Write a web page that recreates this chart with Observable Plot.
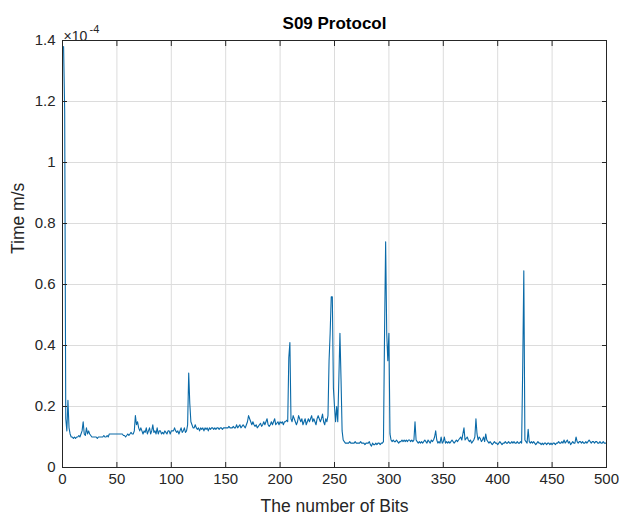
<!DOCTYPE html>
<html>
<head>
<meta charset="utf-8">
<script src="https://cdn.jsdelivr.net/npm/d3@7"></script>
<script src="https://cdn.jsdelivr.net/npm/@observablehq/plot@0.6"></script>
<style>
  html, body { margin: 0; padding: 0; background: #fff; }
  #chart svg { display: block; }
</style>
</head>
<body>
<div id="chart"></div>
<script>
// Time (×10^-4 m/s) for bits 1..500
const timeValues = [
  1.38, 1.17, 0.16, 0.12, 0.22, 0.13, 0.11, 0.10, 0.10, 0.095,
  0.10, 0.095, 0.10, 0.10, 0.105, 0.10, 0.11, 0.12, 0.15, 0.11,
  0.105, 0.13, 0.11, 0.12, 0.11, 0.105, 0.10, 0.10, 0.10, 0.10,
  0.10, 0.095, 0.10, 0.10, 0.10, 0.10, 0.10, 0.105, 0.10, 0.10,
  0.105, 0.10, 0.11, 0.11, 0.11, 0.11, 0.11, 0.11, 0.11, 0.11,
  0.11, 0.11, 0.11, 0.11, 0.11, 0.105, 0.105, 0.10, 0.105, 0.11,
  0.105, 0.11, 0.115, 0.11, 0.11, 0.12, 0.17, 0.14, 0.15, 0.13,
  0.12, 0.13, 0.12, 0.11, 0.12, 0.115, 0.13, 0.11, 0.12, 0.13,
  0.11, 0.12, 0.14, 0.115, 0.12, 0.11, 0.13, 0.11, 0.12, 0.12,
  0.11, 0.115, 0.11, 0.12, 0.115, 0.11, 0.12, 0.12, 0.11, 0.12,
  0.12, 0.12, 0.13, 0.12, 0.115, 0.12, 0.11, 0.12, 0.13, 0.115,
  0.12, 0.13, 0.115, 0.12, 0.14, 0.31, 0.21, 0.15, 0.14, 0.13,
  0.13, 0.14, 0.13, 0.125, 0.13, 0.12, 0.13, 0.125, 0.13, 0.12,
  0.13, 0.125, 0.13, 0.12, 0.13, 0.125, 0.13, 0.13, 0.125, 0.13,
  0.125, 0.13, 0.13, 0.125, 0.13, 0.13, 0.125, 0.13, 0.13, 0.13,
  0.13, 0.13, 0.135, 0.13, 0.13, 0.13, 0.135, 0.13, 0.13, 0.14,
  0.13, 0.135, 0.14, 0.13, 0.135, 0.14, 0.135, 0.13, 0.14, 0.15,
  0.17, 0.16, 0.15, 0.14, 0.15, 0.14, 0.135, 0.14, 0.13, 0.135,
  0.14, 0.145, 0.135, 0.14, 0.15, 0.14, 0.15, 0.16, 0.14, 0.135,
  0.14, 0.15, 0.14, 0.15, 0.16, 0.14, 0.145, 0.15, 0.14, 0.15,
  0.145, 0.15, 0.14, 0.15, 0.15, 0.155, 0.15, 0.36, 0.41, 0.16,
  0.15, 0.17, 0.16, 0.15, 0.14, 0.15, 0.17, 0.16, 0.15, 0.16,
  0.14, 0.15, 0.16, 0.14, 0.15, 0.16, 0.15, 0.16, 0.17, 0.15,
  0.16, 0.15, 0.14, 0.16, 0.17, 0.16, 0.15, 0.16, 0.175, 0.15,
  0.14, 0.16, 0.15, 0.17, 0.35, 0.44, 0.56, 0.56, 0.26, 0.20,
  0.15, 0.20, 0.15, 0.29, 0.44, 0.29, 0.12, 0.09, 0.085, 0.08,
  0.08, 0.08, 0.08, 0.085, 0.08, 0.08, 0.08, 0.08, 0.085, 0.08,
  0.08, 0.08, 0.08, 0.085, 0.08, 0.08, 0.08, 0.075, 0.08, 0.08,
  0.08, 0.085, 0.075, 0.07, 0.08, 0.075, 0.075, 0.08, 0.075, 0.08,
  0.08, 0.075, 0.08, 0.08, 0.085, 0.44, 0.74, 0.44, 0.35, 0.44,
  0.11, 0.09, 0.085, 0.09, 0.085, 0.085, 0.09, 0.085, 0.08, 0.085,
  0.085, 0.09, 0.085, 0.09, 0.085, 0.09, 0.085, 0.09, 0.09, 0.085,
  0.09, 0.085, 0.09, 0.15, 0.09, 0.085, 0.08, 0.085, 0.08, 0.085,
  0.08, 0.085, 0.09, 0.085, 0.08, 0.09, 0.085, 0.08, 0.09, 0.085,
  0.09, 0.10, 0.12, 0.09, 0.08, 0.085, 0.08, 0.10, 0.08, 0.085,
  0.10, 0.08, 0.085, 0.08, 0.085, 0.08, 0.085, 0.09, 0.085, 0.08,
  0.085, 0.09, 0.085, 0.09, 0.095, 0.10, 0.09, 0.11, 0.13, 0.09,
  0.095, 0.10, 0.09, 0.085, 0.09, 0.08, 0.085, 0.09, 0.10, 0.16,
  0.11, 0.09, 0.10, 0.095, 0.085, 0.09, 0.10, 0.085, 0.11, 0.09,
  0.085, 0.08, 0.085, 0.08, 0.075, 0.08, 0.085, 0.08, 0.08, 0.075,
  0.08, 0.085, 0.08, 0.075, 0.08, 0.08, 0.085, 0.08, 0.08, 0.085,
  0.08, 0.08, 0.085, 0.08, 0.085, 0.08, 0.08, 0.085, 0.08, 0.08,
  0.085, 0.08, 0.33, 0.645, 0.09, 0.085, 0.08, 0.125, 0.085, 0.08,
  0.085, 0.08, 0.085, 0.08, 0.075, 0.08, 0.085, 0.08, 0.08, 0.075,
  0.08, 0.075, 0.08, 0.08, 0.075, 0.08, 0.08, 0.075, 0.08, 0.075,
  0.08, 0.08, 0.075, 0.08, 0.08, 0.085, 0.08, 0.08, 0.085, 0.08,
  0.09, 0.08, 0.085, 0.09, 0.08, 0.085, 0.075, 0.08, 0.085, 0.08,
  0.08, 0.10, 0.085, 0.08, 0.085, 0.085, 0.08, 0.085, 0.08, 0.08,
  0.085, 0.08, 0.085, 0.09, 0.085, 0.08, 0.085, 0.085, 0.08, 0.085,
  0.085, 0.08, 0.08, 0.085, 0.08, 0.08, 0.085, 0.08, 0.08, 0.08
];
const bits = timeValues.map((_, i) => i + 1);
const xTicks = [0, 50, 100, 150, 200, 250, 300, 350, 400, 450, 500];
const yTicks = [0, 0.2, 0.4, 0.6, 0.8, 1, 1.2, 1.4];
const titleText = "S09 Protocol";
const xLabel = "The number of Bits";
const yLabel = "Time m/s";
const exponentBase = "×10";
const exponentPower = "-4";

const data = bits.map((b, i) => ({bit: b, t: timeValues[i]}));
const axisColor = "#262626";
const font = "'Liberation Sans', Arial, Helvetica, sans-serif";

const chart = Plot.plot({
  width: 619,
  height: 518,
  marginLeft: 62,
  marginRight: 13,
  marginTop: 40,
  marginBottom: 51,
  style: {fontFamily: font, background: "#fff", color: axisColor},
  x: {domain: [0, 500]},
  y: {domain: [0, 1.4]},
  marks: [
    Plot.gridX(xTicks, {stroke: "#dcdcdc", strokeOpacity: 1}),
    Plot.gridY(yTicks, {stroke: "#dcdcdc", strokeOpacity: 1}),
    Plot.line(data, {x: "bit", y: "t", stroke: "#0a6aa8", strokeWidth: 1.1}),
    Plot.axisX(xTicks, {anchor: "bottom", tickSize: -5, tickPadding: 11, fontSize: 15, label: null, stroke: axisColor, fill: axisColor}),
    Plot.axisX(xTicks, {anchor: "top", tickSize: -5, tickFormat: () => "", label: null, stroke: axisColor}),
    Plot.axisY(yTicks, {anchor: "left", tickSize: -5, tickPadding: 12, fontSize: 15, label: null, tickFormat: d => String(+d.toFixed(1)), stroke: axisColor, fill: axisColor}),
    Plot.axisY(yTicks, {anchor: "right", tickSize: -5, tickFormat: () => "", label: null, stroke: axisColor}),
    Plot.frame({stroke: axisColor, strokeWidth: 1}),
    Plot.text([titleText], {frameAnchor: "top", dy: -24, fontSize: 17, fontWeight: "bold", fill: "#000", text: d => d}),
    Plot.text([xLabel], {frameAnchor: "bottom", dy: 44, fontSize: 17.5, fill: axisColor, text: d => d}),
    Plot.text([yLabel], {frameAnchor: "left", dx: -44, rotate: -90, fontSize: 17.5, fill: axisColor, text: d => d}),
    Plot.text([exponentBase], {frameAnchor: "top-left", textAnchor: "start", dx: 1, dy: -9, fontSize: 14, fill: axisColor, text: d => d}),
    Plot.text([exponentPower], {frameAnchor: "top-left", textAnchor: "start", dx: 27, dy: -15, fontSize: 11, fill: axisColor, text: d => d})
  ]
});
document.getElementById("chart").append(chart);
</script>
</body>
</html>
